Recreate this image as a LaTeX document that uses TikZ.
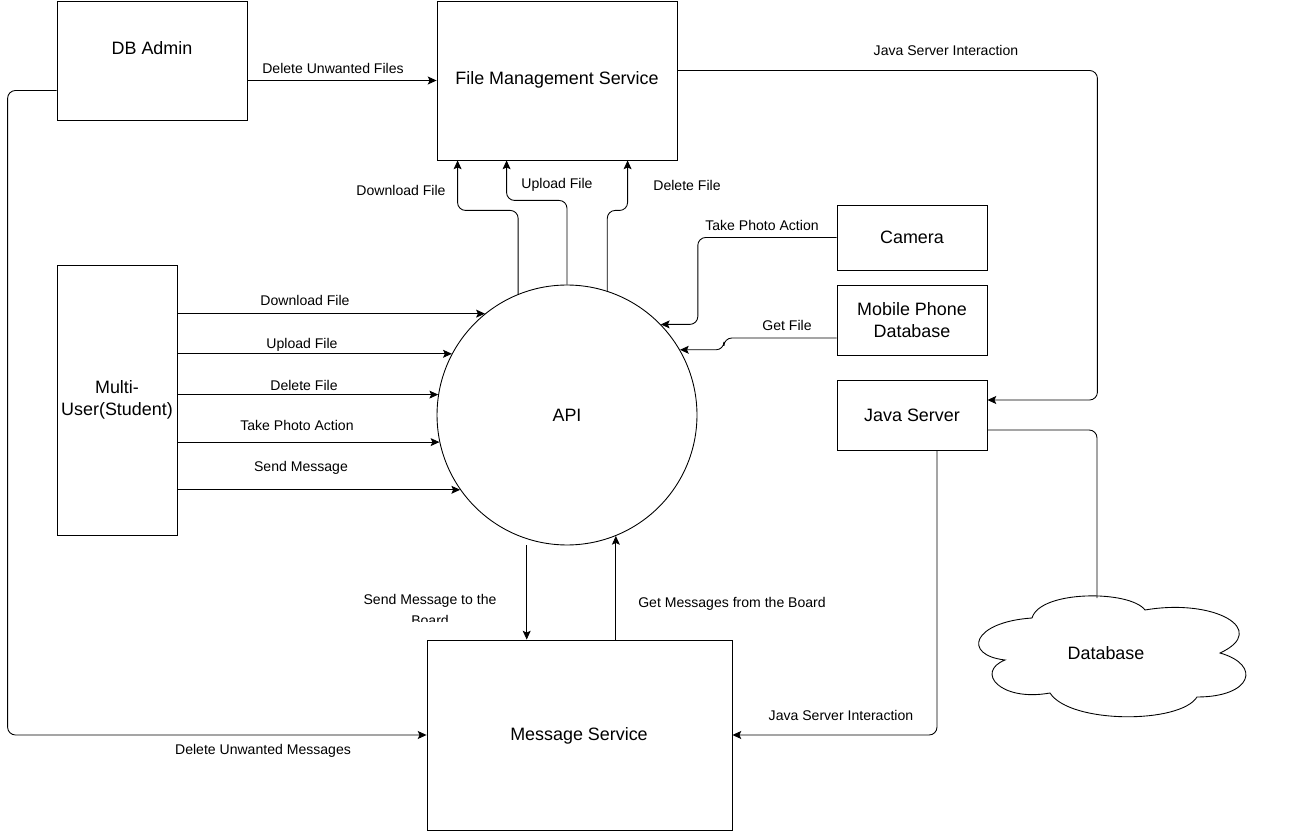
\documentclass[tikz,border=0pt]{standalone}
\usepackage{fontspec}
\setmainfont{Liberation Sans}
\usetikzlibrary{arrows.meta,calc}
\begin{document}
\begin{tikzpicture}[x=0.02cm,y=-0.02cm,
  box/.style={draw,line width=0.5pt,inner sep=0pt},
  boxtext/.style={font=\fontsize{10.2}{12.5}\selectfont,align=center,inner sep=0pt},
  lbl/.style={font=\fontsize{8}{12.5}\selectfont,align=center,inner sep=0pt},
  conn/.style={line width=0.5pt,rounded corners=4.5pt},
  arr/.style={conn,-{Stealth[length=5pt,width=4.5pt,inset=1pt]}}]
\useasboundingbox (0,0) rectangle (1309,834);
% boxes
\node[box,minimum width=3.8cm,minimum height=2.38cm] (dba) at (152,60.5) {};
\node[boxtext] (dbat) at (152,48) {DB Admin};
\node[box,minimum width=4.8cm,minimum height=3.18cm] (fms) at (557,80.5) {};
\node[boxtext] (fmst) at (557,80) {File Management Service};
\node[box,minimum width=2.4cm,minimum height=5.4cm] (mu) at (117,400) {};
\node[boxtext] (mut) at (117,400) {Multi-\\User(Student)};
\node[box,circle,minimum size=5.2cm] (api) at (567,415) {};
\node[boxtext] (apit) at (567,415) {API};
\node[box,minimum width=3cm,minimum height=1.3cm] (cam) at (912,237.5) {};
\node[boxtext] (camt) at (912,237) {Camera};
\node[box,minimum width=3cm,minimum height=1.4cm] (mpd) at (912,320) {};
\node[boxtext] (mpdt) at (912,320) {Mobile Phone\\Database};
\node[box,minimum width=3cm,minimum height=1.4cm] (js) at (912,415) {};
\node[boxtext] (jst) at (912,415) {Java Server};
\node[box,minimum width=6.1cm,minimum height=3.8cm] (ms) at (579.5,735) {};
\node[boxtext] (mst) at (579,736) {Message Service};
% cloud
\draw[line width=0.5pt] (1005,660) .. controls (962,655) and (972,622) .. (1032,618)
  .. controls (1040,590) and (1130,590) .. (1145,610)
  .. controls (1215,598) and (1270,630) .. (1220,653)
  .. controls (1262,665) and (1252,697) .. (1197,697)
  .. controls (1180,724) and (1070,724) .. (1050,693)
  .. controls (1000,702) and (975,672) .. cycle;
\node[boxtext] (db) at (1106,653) {Database};
\coordinate (dbtop) at (1097,598);
% connectors
\draw[arr] (dba.east |- fms.west) -- (fms.west);
\node[lbl] (l1) at (333,68) {Delete Unwanted Files};
\draw[arr] ($(dba.west)+(0,30)$) -| ($(ms.west)+(-419,0)$) -- (ms.west);
\node[lbl] (l2) at (263,751) {Delete Unwanted Messages};
\draw[arr] ($(fms.east)+(0,-10)$) -| ($(js.east)+(110,-15)$) -- ($(js.east)+(0,-15)$);
\node[lbl] (l3) at (946,50) {Java Server Interaction};
% API to file management
\draw[arr] (api.112.6) |- ($(fms.south west)+(21,50)$) -- ($(fms.south west)+(21,0)$);
\node[lbl] (l4) at (401,190) {Download File};
\draw[arr] (api.90) |- ($(fms.south west)+(70,40)$) -- ($(fms.south west)+(70,0)$);
\node[lbl] (l5) at (557,185) {Upload File};
\draw[arr] (api.72.1) |- ($(fms.south west)+(191,50)$) -- ($(fms.south west)+(191,0)$);
\node[lbl] (l6) at (687,185) {Delete File};
% camera and phone
\draw[arr] (cam.west) -| ($(api.44.7)+(37,0)$) -- (api.44.7);
\node[lbl] (l7) at (762,225) {Take Photo Action};
\draw[arr] ($(mpd.west)+(0,18)$) -| ($(api.30.4)+(44,0)$) -- (api.30.4);
\node[lbl] (l8) at (787,325) {Get File};
% multi-user
\draw[arr] (mu.east |- api.129.7) -- (api.129.7);
\node[lbl] (m1) at (305,300) {Download File};
\draw[arr] (mu.east |- api.152.5) -- (api.152.5);
\node[lbl] (m2) at (302,345) {Upload File};
\draw[arr] (mu.east |- api.171.15) -- (api.171.15);
\node[lbl] (m3) at (304,385) {Delete File};
\draw[arr] (mu.east |- api.192.4) -- (api.192.4);
\node[lbl] (m4) at (297,425) {Take Photo Action};
\draw[arr] (mu.east |- api.215.2) -- (api.215.2);
\node[lbl] (m5) at (301,468) {Send Message};
% API and message service
\draw[arr] ($(api.252.1)+(0,6)$) -- (api.252.1 |- ms.north);
\begin{scope}
\clip (330,585) rectangle (530,621.5);
\node[lbl,anchor=north] (l9) at (430,593.5) {Send Message to the\\Board};
\end{scope}
\draw[arr] (api.292.6 |- ms.north) -- (api.292.6);
\node[lbl] (l10) at (732,604) {Get Messages from the Board};
% java server
\draw[arr] ($(js.south)+(25,0)$) |- (ms.east);
\node[lbl] (l11) at (841,715) {Java Server Interaction};
\draw[conn] ($(js.east)+(0,15)$) -| (dbtop);
\end{tikzpicture}
\end{document}
